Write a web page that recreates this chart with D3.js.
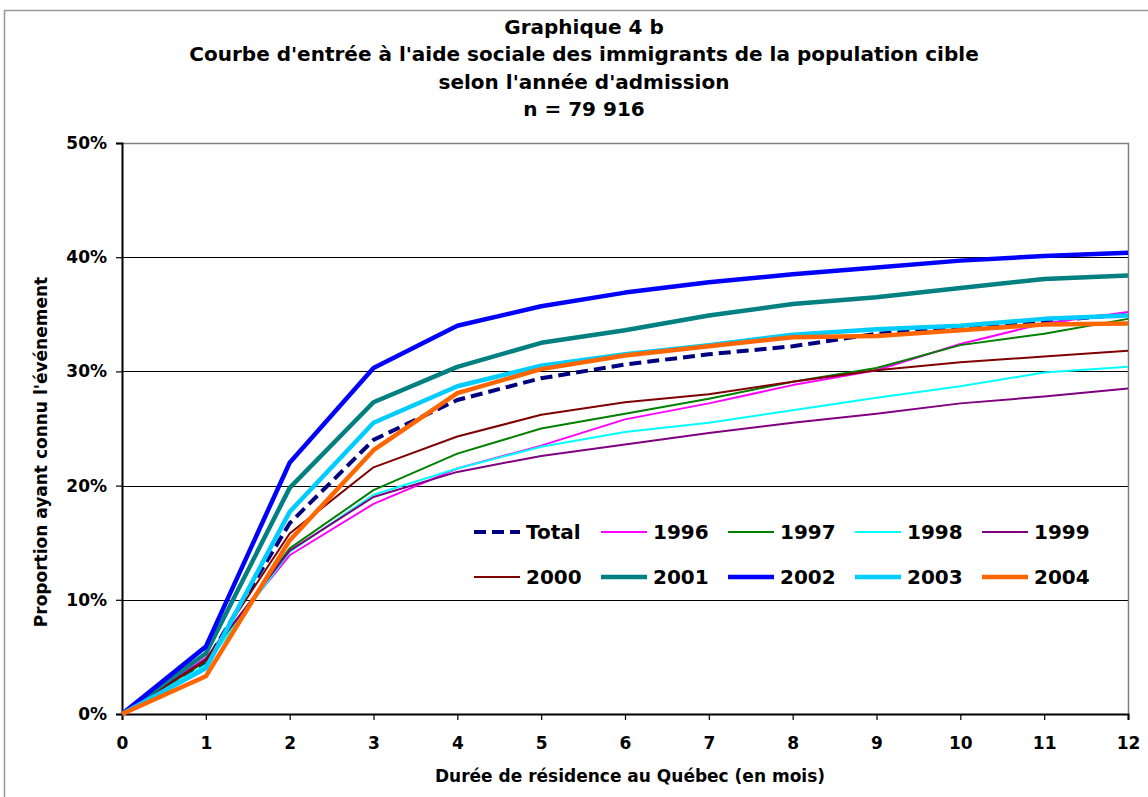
<!DOCTYPE html>
<html><head><meta charset="utf-8">
<script src="https://cdn.jsdelivr.net/npm/d3@7"></script>
<style>
body{margin:0;background:#fff;}
text{font-family:"DejaVu Sans",Arial,sans-serif;font-weight:bold;fill:#000;}
</style></head>
<body><svg id="c" width="1148" height="797"></svg>
<script>
const months = [0,1,2,3,4,5,6,7,8,9,10,11,12];
const yTicks = [0,0.1,0.2,0.3,0.4,0.5];
const titleLines = ["Graphique 4 b","Courbe d'entrée à l'aide sociale des immigrants de la population cible","selon l'année d'admission","n = 79 916"];
const seriesNames = ["Total","1996","1997","1998","1999","2000","2001","2002","2003","2004"];
const seriesColors = ["#000080","#FF00FF","#008000","#00FFFF","#800080","#800000","#008080","#0000FF","#00CCFF","#FF6600"];
const seriesWidths = [4,2,2,2,2,2,4.5,4.5,4.5,4.5];
const valTotal = [0,4.5,16.7,24.0,27.5,29.4,30.6,31.5,32.2,33.3,33.8,34.4,35.0];
const val1996 = [0,4.9,13.9,18.4,21.5,23.5,25.8,27.2,28.8,30.1,32.4,34.2,35.2];
const val1997 = [0,4.6,14.5,19.6,22.8,25.0,26.3,27.6,29.1,30.3,32.3,33.3,34.6];
const val1998 = [0,4.3,14.2,19.2,21.5,23.4,24.7,25.5,26.6,27.7,28.7,29.9,30.4];
const val1999 = [0,4.8,14.3,19.0,21.2,22.6,23.6,24.6,25.5,26.3,27.2,27.8,28.5];
const val2000 = [0,4.7,15.8,21.6,24.3,26.2,27.3,28.0,29.1,30.1,30.8,31.3,31.8];
const val2001 = [0,5.3,19.8,27.3,30.4,32.5,33.6,34.9,35.9,36.5,37.3,38.1,38.4];
const val2002 = [0,5.9,22.0,30.3,34.0,35.7,36.9,37.8,38.5,39.1,39.7,40.1,40.4];
const val2003 = [0,4.0,17.7,25.5,28.7,30.5,31.5,32.3,33.2,33.7,34.0,34.6,34.9];
const val2004 = [0,3.3,15.2,23.1,28.1,30.2,31.4,32.2,33.0,33.1,33.6,34.1,34.2];
const seriesValues = [valTotal,val1996,val1997,val1998,val1999,val2000,val2001,val2002,val2003,val2004];

const FONT = "'DejaVu Sans',Arial,sans-serif";
const svg = d3.select("#c");
svg.append("rect").attr("x",4.5).attr("y",10.5).attr("width",1150).attr("height",800)
  .attr("fill","#fff").attr("stroke","#999").attr("stroke-width",1.5);

const L=122,R=1128,T=143,B=714;
const x = d3.scaleLinear().domain([0,12]).range([L,R]);
const y = d3.scaleLinear().domain([0,0.5]).range([B,T]);

// title
const tY=[28,55,83,110];
titleLines.forEach((t,i)=>svg.append("text").attr("x",584).attr("y",tY[i]).attr("text-anchor","middle")
  .attr("dominant-baseline","middle").style("font-size","20px").text(t));

// grid
svg.append("g").selectAll("line").data(yTicks.filter(d=>d>0&&d<0.5)).join("line")
  .attr("x1",L).attr("x2",R).attr("y1",d=>Math.round(y(d))+0.5).attr("y2",d=>Math.round(y(d))+0.5)
  .attr("stroke","#000").attr("stroke-width",1);
// plot border top/right
svg.append("path").attr("d",`M${L},${T+0.5}H${R+0.5}V${B}`).attr("fill","none").attr("stroke","#808080").attr("stroke-width",1.5);

// axes
const yAxis = d3.axisLeft(y).tickValues(yTicks).tickFormat(d3.format(".0%")).tickSize(6).tickPadding(9);
const gy = svg.append("g").attr("transform",`translate(${L},0)`).call(yAxis);
const xAxis = d3.axisBottom(x).tickValues(months).tickFormat(d3.format("d")).tickSize(6).tickPadding(17);
const gx = svg.append("g").attr("transform",`translate(0,${B})`).call(xAxis);
[gy,gx].forEach(g=>{
  g.attr("font-family",FONT).attr("font-size",17);
  g.select(".domain").attr("stroke","#000").attr("stroke-width",2);
  g.selectAll(".tick line").attr("stroke","#000").attr("stroke-width",1.2);
  g.selectAll(".tick text").style("font-size","17px").style("font-family",FONT).style("font-weight","bold").attr("fill","#000");
});

// axis titles
svg.append("text").attr("x",630).attr("y",777).attr("text-anchor","middle").attr("dominant-baseline","middle")
  .style("font-size","17px").text("Durée de résidence au Québec (en mois)");
svg.append("text").attr("transform","translate(42,452) rotate(-90)").attr("text-anchor","middle").attr("dominant-baseline","middle")
  .style("font-size","17px").text("Proportion ayant connu l'événement");

// lines
const line = d3.line().x((d,i)=>x(months[i])).y(d=>y(d/100));
seriesValues.forEach((vals,i)=>{
  svg.append("path").datum(vals).attr("d",line).attr("fill","none")
    .attr("stroke",seriesColors[i]).attr("stroke-width",seriesWidths[i])
    .attr("stroke-linejoin","round")
    .attr("stroke-dasharray", i===0?"12,6":null);
});

// legend
const legX0=474, legDX=127, legY=[532,577];
seriesNames.forEach((n,i)=>{
  const col=i%5,row=Math.floor(i/5);
  const lx=legX0+col*legDX, ly=legY[row];
  svg.append("line").attr("x1",lx).attr("x2",lx+46).attr("y1",ly).attr("y2",ly)
    .attr("stroke",seriesColors[i]).attr("stroke-width",seriesWidths[i])
    .attr("stroke-dasharray",i===0?"12,6":null);
  svg.append("text").attr("x",lx+52).attr("y",ly+1).attr("dominant-baseline","middle")
    .style("font-size","20px").text(n);
});
</script></body></html>
